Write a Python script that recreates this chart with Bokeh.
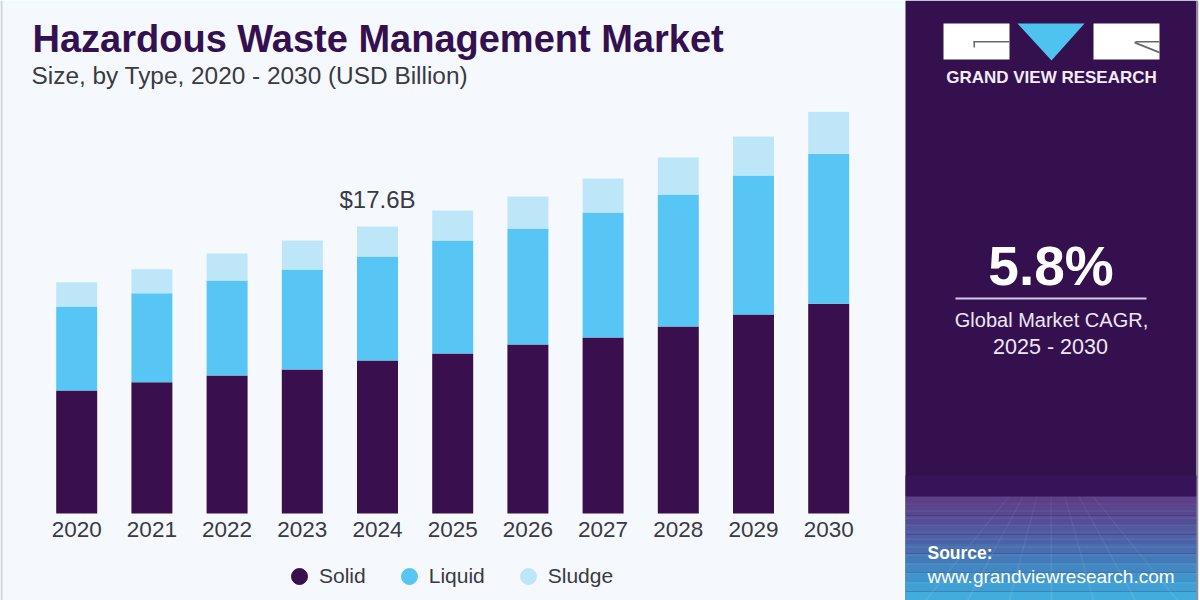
from bokeh.core.properties import value
from bokeh.embed import file_html
from bokeh.models import BoxAnnotation, ColumnDataSource, FixedTicker, Label, Legend, LegendItem, LinearAxis, PolyAnnotation, Range1d
from bokeh.plotting import figure
from bokeh.resources import INLINE

years = [2020, 2021, 2022, 2023, 2024, 2025, 2026, 2027, 2028, 2029, 2030]
solid = [7.52, 8.02, 8.44, 8.80, 9.35, 9.78, 10.33, 10.76, 11.43, 12.16, 12.82]
liquid = [5.14, 5.44, 5.80, 6.11, 6.36, 6.91, 7.09, 7.64, 8.07, 8.50, 9.17]
sludge = [1.47, 1.47, 1.65, 1.77, 1.83, 1.83, 1.96, 2.08, 2.26, 2.38, 2.57]
series_names = ["Solid", "Liquid", "Sludge"]
series_colors = ["#3a0f4e", "#58c6f5", "#bde7f9"]
callout_year = [2024]
callout_value = [17.6]
callout_text = ["$17.6B"]

BG = "#f5f9fd"
PANEL = "#35104f"
TEXT = "#3a3a42"
PX_PER_YEAR = 75.2
PX_PER_BILLION = 16.36


def label(text, x, y, size, color=TEXT, weight="normal", align="left"):
    # y is the text's baseline in the reference; the label is anchored near its vertical middle
    p.add_layout(Label(x=x, y=y - 0.36 * size, x_units="canvas", y_units="canvas", text=text,
                       text_font="Liberation Sans", text_font_size=f"{size}px", text_color=color,
                       text_font_style=weight, text_align=align, text_baseline="alphabetic"))


def box(l, t, r, b, color, alpha=1.0):
    p.add_layout(BoxAnnotation(left=l, right=r, top=t, bottom=b,
                               left_units="canvas", right_units="canvas", top_units="canvas", bottom_units="canvas",
                               fill_color=color, fill_alpha=alpha, line_color=None))


def poly(xs, ys, color, alpha=1.0):
    p.add_layout(PolyAnnotation(xs=xs, ys=ys, xs_units="canvas", ys_units="canvas",
                                fill_color=color, fill_alpha=alpha, line_color=None))


x0 = 2020 - 76.2 / PX_PER_YEAR
y0 = -(600 - 513) / PX_PER_BILLION
p = figure(width=1200, height=600, output_backend="svg", toolbar_location=None,
           x_range=Range1d(x0, x0 + 1200 / PX_PER_YEAR), y_range=Range1d(y0, y0 + 600 / PX_PER_BILLION),
           x_axis_location=None, y_axis_location=None, min_border=0,
           background_fill_color=BG, border_fill_color=BG, outline_line_color=None)
p.grid.visible = False

# the axis sits in a zero-height panel: a negative standoff cancels the label height
axis = LinearAxis(ticker=FixedTicker(ticks=years), fixed_location=-1.77, axis_line_color=None,
                  major_tick_line_color=None, minor_tick_line_color=None,
                  major_label_text_font="Liberation Sans", major_label_text_font_size="22.5px",
                  major_label_text_color=TEXT, major_label_standoff=-26)
p.add_layout(axis, "below")

src = ColumnDataSource(dict(year=years, Solid=solid, Liquid=liquid, Sludge=sludge))
p.vbar_stack(series_names, x="year", width=0.545, color=series_colors, source=src, line_color=None)

p.text(x=callout_year, y=callout_value, text=callout_text, text_font=value("Liberation Sans"), text_font_size=value("24px"),
       text_color=TEXT, text_align="center", text_baseline="alphabetic", y_offset=-26)

# page edges
box(0, 0, 1200, 8, "#effbfd")
box(0, 0, 2, 600, "#cdd4dc")

# side panel
box(905, 0, 1196, 600, PANEL)
box(1196, 0, 1198, 600, "#8f8f98")
box(1198, 0, 1200, 600, "#ffffff")
box(905, 475, 1196, 496, "#37145a")
ramp = ["#5c3f88", "#59468f", "#554e96", "#50589f", "#4c62a7", "#486eb0", "#457ab9", "#4287c2", "#4094cc", "#40a0d4", "#42addd"]
for i, c in enumerate(ramp):
    box(905, 496 + i * 9.5, 1196, 496 + (i + 1) * 9.5, c)
for y in [503, 510, 517, 524, 531, 538, 546, 554, 563, 572, 582]:
    box(905, y, 1196, y + 1.2, "#ffffff", 0.07)
for k in range(-10, 11):
    top = 1050 + k * 14
    bot = 1050 + k * 42
    if 905 < bot < 1194:
        poly([top, top + 1, bot + 2, bot], [496, 496, 600, 600], "#ffffff", 0.07)

# logo
box(943, 23, 1009, 59, "#ffffff")
box(1093, 23, 1159, 59, "#ffffff")
box(973, 40.5, 1009, 42, "#6b6570")
box(973, 40.5, 974.5, 47, "#6b6570")
box(1135, 40.5, 1159, 42, "#6b6570")
poly([1134, 1159, 1159, 1134], [41, 51, 53, 43], "#6b6570")
poly([1017, 1084, 1051], [23, 23, 60], "#4fc3f0")
label("GRAND VIEW RESEARCH", 1051, 83, 17, "#f2ecf7", "bold", "center")

label("5.8%", 1050.5, 285, 55, "#ffffff", "bold", "center")
box(955, 297, 1146, 299, "#d9c6ee")
label("Global Market CAGR,", 1051, 327, 20, "#ece7f2", "normal", "center")
label("2025 - 2030", 1050, 354, 21.5, "#ece7f2", "normal", "center")
label("Source:", 927, 559, 17.5, "#ffffff", "bold")
label("www.grandviewresearch.com", 927, 583, 19, "#ffffff")

# headings
label("Hazardous Waste Management Market", 32, 52, 38, "#34104f", "bold")
label("Size, by Type, 2020 - 2030 (USD Billion)", 31, 84, 24.4, TEXT)

# legend
marks = [p.scatter(x=[years[0]], y=[float("nan")], size=16, color=c) for c in series_colors]
legend = Legend(items=[LegendItem(label=value(n), renderers=[m]) for n, m in zip(series_names, marks)],
                orientation="horizontal", location=(279, 4), background_fill_alpha=0, border_line_alpha=0,
                label_text_font="Liberation Sans", label_text_font_size="21px", label_text_color=TEXT,
                glyph_width=40, glyph_height=40, spacing=23, label_standoff=-1, padding=0, margin=0)
p.add_layout(legend)

open("out.html", "w").write(file_html(p, INLINE))
